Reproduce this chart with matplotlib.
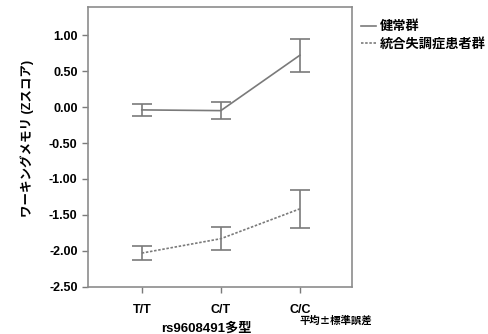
import numpy as np
import matplotlib.pyplot as plt
import matplotlib.patheffects as pe
from matplotlib import font_manager as fm

# データ
genotypes = ["T/T", "C/T", "C/C"]
healthy_mean = [-0.04, -0.05, 0.72]
healthy_se = [0.08, 0.12, 0.23]
patient_mean = [-2.03, -1.83, -1.415]
patient_se = [0.095, 0.16, 0.265]
group_labels = ["健常群", "統合失調症患者群"]
yticks = [1.00, 0.50, 0.00, -0.50, -1.00, -1.50, -2.00, -2.50]

plt.rcParams['font.family'] = ['Liberation Sans', 'Noto Sans CJK JP']

# CJKの太字が無ければ縁取りで太く見せる
cjk_file = fm.findfont(fm.FontProperties(family='Noto Sans CJK JP', weight='bold'))
if 'Bold' in cjk_file or 'bold' in cjk_file:
    bold_fx = []
else:
    bold_fx = [pe.withStroke(linewidth=0.6, foreground='black')]

fig = plt.figure(figsize=(4.89, 3.34), dpi=100)
ax = fig.add_axes([0.18, 0.141, 0.54, 0.838])

x = np.arange(len(genotypes))
grey = "#7a7a7a"

h = ax.errorbar(x, healthy_mean, yerr=healthy_se, color=grey, lw=1.2,
                capsize=7, capthick=1.2, elinewidth=1.2, linestyle='-')
p = ax.errorbar(x, patient_mean, yerr=patient_se, color=grey, lw=1.2,
                capsize=7, capthick=1.2, elinewidth=1.2, linestyle=(0, (1.5, 1)))

ax.set_xlim(-0.68, 2.66)
ax.set_ylim(-2.5, 1.39)
ax.set_xticks(x)
ax.set_xticklabels(genotypes, fontsize=9, fontweight='bold')
ax.set_yticks(yticks)
ax.set_yticklabels([f"{v:.2f}" for v in yticks], fontsize=9, fontweight='bold')
ax.tick_params(direction='out', length=4, color=grey, width=1)
ax.tick_params(axis='x', pad=8)
for s in ax.spines.values():
    s.set_color("#8c8c8c")
    s.set_linewidth(1.2)

ax.set_xlabel("rs9608491多型", fontsize=9.5, fontweight='bold', path_effects=bold_fx)
ax.xaxis.set_label_coords(0.45, -0.125)
ax.set_ylabel("ワーキングメモリ (Zスコア)", fontsize=9, fontweight='bold',
              path_effects=bold_fx)
ax.yaxis.set_label_coords(-0.205, 0.53)

# 凡例
leg = fig.legend([h.lines[0], p.lines[0]], group_labels, loc='upper left',
                 bbox_to_anchor=(0.728, 0.958), frameon=False, handlelength=1.1,
                 handletextpad=0.3, labelspacing=0.25, borderaxespad=0,
                 prop={'family': ['Noto Sans CJK JP'], 'weight': 'bold', 'size': 9.5})
for t in leg.get_texts():
    t.set_path_effects(bold_fx)

fig.text(0.613, 0.032, "平均±標準誤差", fontsize=7.5, fontweight='bold',
         family=['Noto Sans CJK JP'], path_effects=bold_fx)

fig.savefig("out.png", dpi=100)
